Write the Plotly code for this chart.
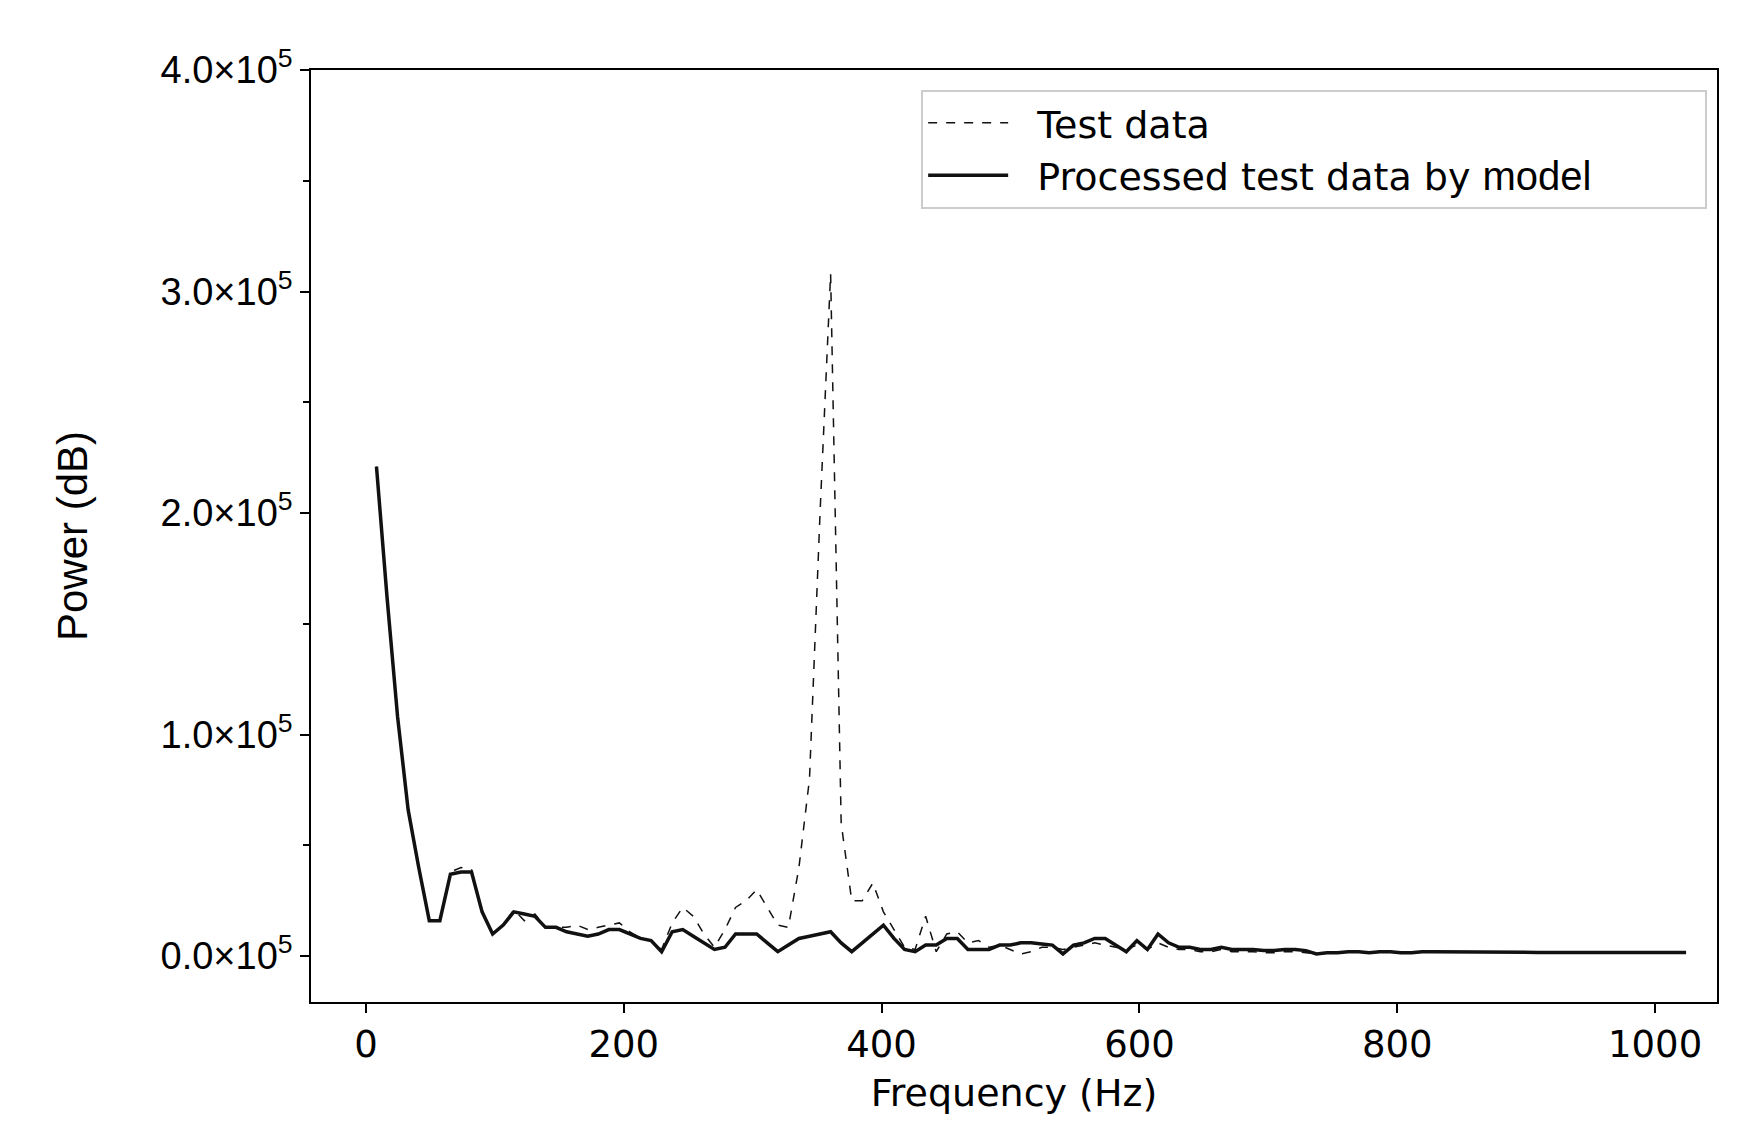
import numpy as np
import plotly.graph_objects as go

# Frequency bins (Hz)
freq = [round(1024 / 125 * k, 3) for k in range(1, 126)]

# Power values, in units of 1e5
processed = [
    2.21, 1.62, 1.08, 0.66, 0.40, 0.16, 0.16, 0.37, 0.38, 0.38,
    0.20, 0.10, 0.14, 0.20, 0.19, 0.18, 0.13, 0.13, 0.11, 0.10,
    0.09, 0.10, 0.12, 0.12, 0.10, 0.08, 0.07, 0.02, 0.11, 0.12,
    0.09, 0.06, 0.03, 0.04, 0.10, 0.10, 0.10, 0.06, 0.02, 0.05,
    0.08, 0.09, 0.10, 0.11, 0.06, 0.02, 0.06, 0.10, 0.14, 0.08,
    0.03, 0.02, 0.05, 0.05, 0.08, 0.08, 0.03, 0.03, 0.03, 0.05,
    0.05, 0.06, 0.06, 0.055, 0.05, 0.01, 0.05, 0.06, 0.08, 0.08,
    0.05, 0.02, 0.07, 0.03, 0.10, 0.06, 0.04, 0.04, 0.03, 0.03,
    0.04, 0.03, 0.03, 0.03, 0.025, 0.025, 0.03, 0.03, 0.025, 0.01,
    0.015, 0.015, 0.02, 0.02, 0.015, 0.02, 0.02, 0.015, 0.015, 0.02,
    0.02, 0.02, 0.018, 0.018, 0.02, 0.018, 0.018, 0.017, 0.017, 0.017,
    0.017, 0.016, 0.016, 0.016, 0.016, 0.015, 0.015, 0.015, 0.014, 0.014,
    0.015, 0.015, 0.016, 0.016, 0.016,
]

test = [
    2.21, 1.62, 1.08, 0.66, 0.40, 0.16, 0.16, 0.38, 0.40, 0.39,
    0.20, 0.10, 0.14, 0.21, 0.16, 0.19, 0.13, 0.13, 0.13, 0.14,
    0.12, 0.13, 0.14, 0.15, 0.11, 0.08, 0.07, 0.03, 0.15, 0.22,
    0.18, 0.10, 0.04, 0.12, 0.22, 0.25, 0.30, 0.22, 0.14, 0.13,
    0.40, 0.80, 2.00, 3.08, 0.60, 0.25, 0.25, 0.33, 0.20, 0.12,
    0.04, 0.03, 0.18, 0.02, 0.10, 0.11, 0.06, 0.07, 0.04, 0.05,
    0.03, 0.01, 0.02, 0.04, 0.04, 0.03, 0.04, 0.05, 0.06, 0.05,
    0.04, 0.03, 0.05, 0.03, 0.06, 0.04, 0.03, 0.03, 0.02, 0.02,
    0.03, 0.02, 0.02, 0.02, 0.015, 0.015, 0.02, 0.02, 0.015, 0.01,
    0.015, 0.015, 0.02, 0.02, 0.015, 0.02, 0.02, 0.015, 0.015, 0.02,
    0.02, 0.02, 0.018, 0.018, 0.02, 0.018, 0.018, 0.017, 0.017, 0.017,
    0.017, 0.016, 0.016, 0.016, 0.016, 0.015, 0.015, 0.015, 0.014, 0.014,
    0.015, 0.015, 0.016, 0.016, 0.016,
]

y_ticks = [0.0, 1.0, 2.0, 3.0, 4.0]
x_ticks = [0, 200, 400, 600, 800, 1000]

PAD = "&nbsp;" * 9

fig = go.Figure()

fig.add_trace(
    go.Scatter(
        x=freq,
        y=np.array(test) * 1e5,
        mode="lines",
        name="&nbsp;&nbsp;Test data",
        line=dict(color="#111111", width=1.5, dash="dash"),
    )
)

fig.add_trace(
    go.Scatter(
        x=freq,
        y=np.array(processed) * 1e5,
        mode="lines",
        name="&nbsp;&nbsp;Processed test data by "
        "<span style='font-family:Liberation Sans;font-size:40px'>model</span>" + PAD,
        line=dict(color="#111111", width=3.5),
    )
)

fig.update_xaxes(
    range=[-42.6, 1048],
    tickvals=x_ticks,
    ticks="outside",
    ticklen=9,
    tickwidth=1.5,
    tickcolor="black",
    showline=True,
    linecolor="black",
    linewidth=1.5,
    mirror=True,
    showgrid=False,
    zeroline=False,
    tickfont=dict(family="DejaVu Sans", size=37),
    title=dict(text="Frequency (Hz)", font=dict(family="DejaVu Sans", size=38), standoff=14),
)

fig.update_yaxes(
    range=[-20700, 400000],
    tickvals=[v * 1e5 for v in y_ticks],
    ticktext=[f"{v:.1f}×10<sup>5</sup>" for v in y_ticks],
    ticks="outside",
    ticklen=9,
    tickwidth=1.5,
    tickcolor="black",
    minor=dict(dtick=50000, tick0=0, ticks="outside", ticklen=6, tickwidth=1.5, tickcolor="black"),
    showline=True,
    linecolor="black",
    linewidth=1.5,
    mirror=True,
    showgrid=False,
    zeroline=False,
    tickfont=dict(family="Liberation Sans", size=38),
    title=dict(text="Power (dB)", font=dict(family="Liberation Sans", size=42), standoff=60),
)

fig.update_layout(
    width=1758,
    height=1141,
    margin=dict(l=303, r=49, t=62, b=147),
    paper_bgcolor="white",
    plot_bgcolor="white",
    font=dict(family="DejaVu Sans", color="black"),
    legend=dict(
        x=0.993,
        y=0.979,
        xanchor="right",
        yanchor="top",
        bgcolor="white",
        bordercolor="#cccccc",
        borderwidth=2,
        font=dict(family="DejaVu Sans", size=38),
        itemwidth=80,
    ),
)

fig.write_html("out.html")
